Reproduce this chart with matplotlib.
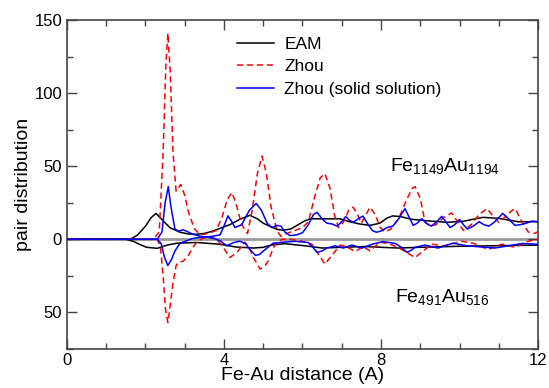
import numpy as np
import matplotlib
matplotlib.use("Agg")
import matplotlib.pyplot as plt

plt.rcParams['font.family'] = ['Liberation Sans', 'DejaVu Sans']
plt.rcParams['mathtext.default'] = 'regular'

# Fe1149Au1194 (upper, positive)
eam_top_x = [0, 1.5, 1.65, 1.8, 2.0, 2.15, 2.27, 2.4, 2.62, 2.88, 3.1, 3.3, 3.5, 3.7, 3.95, 4.15,
             4.4, 4.66, 4.85, 5.0, 5.2, 5.35, 5.5, 5.7, 5.86, 6.05, 6.2, 6.5, 6.96, 7.2, 7.45, 7.72,
             7.97, 8.15, 8.3, 8.5, 8.8, 9.25, 9.68, 10.1, 10.4, 10.6, 11.0, 11.5, 12.0]
eam_top_y = [0, 0, 0.5, 3, 9, 15, 17.7, 14, 8, 4.8, 3.6, 3.4, 4, 5.5, 8, 10,
             13.6, 16.4, 14, 11, 8.5, 6.8, 6.2, 7, 9.5, 12.5, 14, 14, 14, 12, 10.5, 9.5,
             11, 14.5, 16, 15.5, 13.6, 12.5, 11.6, 12.3, 14, 15, 14.3, 12, 12]

zhou_top_x = [0, 2.2, 2.35, 2.45, 2.52, 2.57, 2.63, 2.7, 2.78, 2.9, 3.0, 3.1, 3.25, 3.4, 3.6, 3.8,
              3.95, 4.08, 4.2, 4.3, 4.45, 4.6, 4.72, 4.85, 4.97, 5.08, 5.2, 5.35, 5.45, 5.6, 5.8,
              6.0, 6.15, 6.3, 6.45, 6.57, 6.7, 6.82, 6.92, 7.05, 7.18, 7.29, 7.4, 7.5, 7.62, 7.72,
              7.85, 7.98, 8.1, 8.25, 8.45, 8.65, 8.8, 8.87, 9.0, 9.12, 9.25, 9.4, 9.6, 9.8, 9.95,
              10.1, 10.3, 10.5, 10.7, 10.85, 11.0, 11.15, 11.35, 11.42, 11.55, 11.75, 11.9, 12.0]
zhou_top_y = [0, 0, 5, 60, 120, 141, 115, 60, 33, 37.5, 30, 18, 7, 3, 4, 6,
              15, 27, 32, 25, 10, 4, 20, 45, 57, 45, 22, 6, 2, 4, 6,
              8, 12, 28, 42, 45, 35, 16, 8, 12, 20, 22, 17, 11, 17, 22,
              17, 8, 5, 7, 14, 27, 35, 36, 28, 12, 9, 10, 15, 18, 12,
              6, 10, 17, 21, 16, 11.5, 15, 20, 21, 14, 5, 4, 5]

solid_top_x = [0, 2.3, 2.42, 2.5, 2.58, 2.65, 2.75, 2.85, 2.95, 3.05, 3.2, 3.47, 3.7, 3.9, 4.0,
               4.1, 4.2, 4.28, 4.45, 4.65, 4.82, 4.95, 5.1, 5.22, 5.35, 5.45, 5.55, 5.68, 5.85,
               6.0, 6.15, 6.28, 6.37, 6.5, 6.62, 6.75, 6.88, 7.0, 7.1, 7.2, 7.29, 7.42, 7.54,
               7.65, 7.78, 7.88, 8.0, 8.15, 8.3, 8.45, 8.61, 8.72, 8.82, 8.92, 9.04, 9.15, 9.28,
               9.42, 9.55, 9.65, 9.76, 9.88, 10.0, 10.1, 10.2, 10.35, 10.5, 10.62, 10.75, 10.9,
               11.1, 11.25, 11.41, 11.55, 11.7, 11.85, 12.0]
solid_top_y = [0, 0, 5, 25, 36, 22, 7, 5.5, 6.5, 5.5, 3.5, 1.5, 2, 3, 9,
               16, 12, 8, 10, 20, 24.5, 20, 11, 8, 9.5, 9, 5, 2.5, 3,
               4.5, 10, 17, 18.4, 14, 11, 10.5, 9, 12, 15.5, 13, 11.6, 14, 15.9,
               11, 6, 4.8, 5.6, 8, 9, 14, 21, 15, 9.5, 11, 14, 11, 9,
               12, 15.7, 12, 8, 10, 13.6, 10, 7, 9, 12, 10, 9, 12,
               17.7, 14, 9.5, 10, 11, 12.5, 12]

# Fe491Au516 (lower, drawn negative)
eam_bot_x = [0, 1.5, 1.7, 1.85, 2.03, 2.3, 2.55, 2.8, 3.3, 3.9, 4.3, 4.75, 5.0, 5.2, 5.55,
             6.07, 6.5, 7.0, 7.6, 8.0, 8.43, 9.0, 10.0, 11.0, 12.0]
eam_bot_y = [0, 0, -1.5, -3.5, -5.5, -6.2, -4, -2.7, -2.2, -3.4, -5.3, -6, -5.5, -4, -3,
             -4.5, -6, -5.5, -5, -5.5, -6, -5.5, -4.8, -4.4, -4]

zhou_bot_x = [0, 2.3, 2.38, 2.45, 2.51, 2.57, 2.63, 2.7, 2.78, 2.83, 2.96, 3.08, 3.2, 3.3, 3.45,
              3.56, 3.7, 3.82, 3.98, 4.15, 4.33, 4.53, 4.65, 4.75, 4.92, 5.05, 5.12, 5.3, 5.48,
              5.7, 6.0, 6.24, 6.45, 6.57, 6.78, 6.96, 7.12, 7.34, 7.54, 7.72, 7.97, 8.2, 8.43,
              8.65, 8.87, 9.12, 9.3, 9.6, 10.06, 10.35, 10.73, 11.08, 11.41, 11.75, 12.0]
zhou_bot_y = [0, 0, -5, -25, -48, -57, -45, -30, -18, -16, -15, -11.6, -6, -2, 0.5,
              1.4, 1, 0, -5.5, -12.5, -9, -2, -6, -12.5, -20.4, -18, -15, -3.4, 0,
              0, -1.4, -3.4, -12, -17, -10, -4, -5, -8.5, -5, -8, -2, -3, -5.5,
              -9, -12.5, -7, -3.4, -4.5, -1.4, -2.7, -7, -3.4, -5.5, -1.4, 0]

solid_bot_x = [0, 2.3, 2.4, 2.48, 2.57, 2.66, 2.75, 2.88, 3.05, 3.2, 3.4, 3.6, 3.75, 3.9, 4.07,
               4.23, 4.4, 4.55, 4.66, 4.8, 4.9, 5.05, 5.25, 5.5, 5.8, 6.14, 6.25, 6.37, 6.5,
               6.62, 6.83, 7.04, 7.26, 7.52, 7.77, 8.05, 8.36, 8.52, 8.66, 8.77, 8.87, 9.12,
               9.45, 9.83, 10.2, 10.57, 10.9, 11.24, 11.6, 12.0]
solid_bot_y = [0, 0, -3, -12, -18, -14, -8, -2.7, -1, 0.5, 1.4, 1.5, 0.5, -1, -4.5,
               -2.4, -1.3, -3, -7, -11, -10.5, -7, -2.7, -2, -1.4, -2.2, -5, -9, -8,
               -6, -4.5, -6, -4, -6, -3.4, -1.6, -2.8, -5.5, -9, -7.5, -5.5, -4,
               -6, -2.7, -4.5, -5.3, -6, -4.5, -2.9, -3.4]

yticks = [-50, 0, 50, 100, 150]
ytick_labels = ['50', '0', '50', '100', '150']
xticks = [0, 4, 8, 12]

fig = plt.figure(figsize=(5.49, 3.88), dpi=100)
ax = fig.add_axes([0.122, 0.101, 0.858, 0.847])

ax.axhline(0, color='#999999', lw=2.0, zorder=1)

ax.plot(eam_top_x, eam_top_y, color='black', lw=1.1, label='EAM', zorder=3)
ax.plot(zhou_top_x, zhou_top_y, color='red', lw=1.1, ls=(0, (4, 2.5)), label='Zhou', zorder=3)
ax.plot(solid_top_x, solid_top_y, color='blue', lw=1.1, label='Zhou (solid solution)', zorder=3)

ax.plot(eam_bot_x, eam_bot_y, color='black', lw=1.1, zorder=3)
ax.plot(zhou_bot_x, zhou_bot_y, color='red', lw=1.1, ls=(0, (4, 2.5)), zorder=3)
ax.plot(solid_bot_x, solid_bot_y, color='blue', lw=1.1, zorder=3)

ax.set_xlim(0, 12)
ax.set_ylim(-75, 150)
ax.set_xticks(xticks)
ax.set_xticks(np.arange(0, 13, 1), minor=True)
ax.set_yticks(yticks)
ax.set_yticklabels(ytick_labels)
ax.set_yticks(np.arange(-75, 151, 25), minor=True)

ax.tick_params(which='both', direction='in', top=True, right=True, colors='#444444',
               labelcolor='black', labelsize=12)
ax.tick_params(which='major', length=7, width=1)
ax.tick_params(which='minor', length=4, width=1)
ax.tick_params(axis='x', pad=3)
for s in ax.spines.values():
    s.set_color('#444444')
    s.set_linewidth(1.2)

ax.set_xlabel('Fe-Au distance (A)', fontsize=14, labelpad=-1)
ax.set_ylabel('pair distribution', fontsize=14, labelpad=2)

ax.text(8.23, 50, 'Fe$_{1149}$Au$_{1194}$', fontsize=14, ha='left', va='center')
ax.text(8.36, -39.5, 'Fe$_{491}$Au$_{516}$', fontsize=14, ha='left', va='center')

ax.legend(loc='upper left', bbox_to_anchor=(0.362, 0.95), frameon=False, fontsize=12.5,
          handlelength=2.1, handletextpad=0.6, labelspacing=0.42, borderpad=0, borderaxespad=0)

fig.savefig('out.png', dpi=100)
